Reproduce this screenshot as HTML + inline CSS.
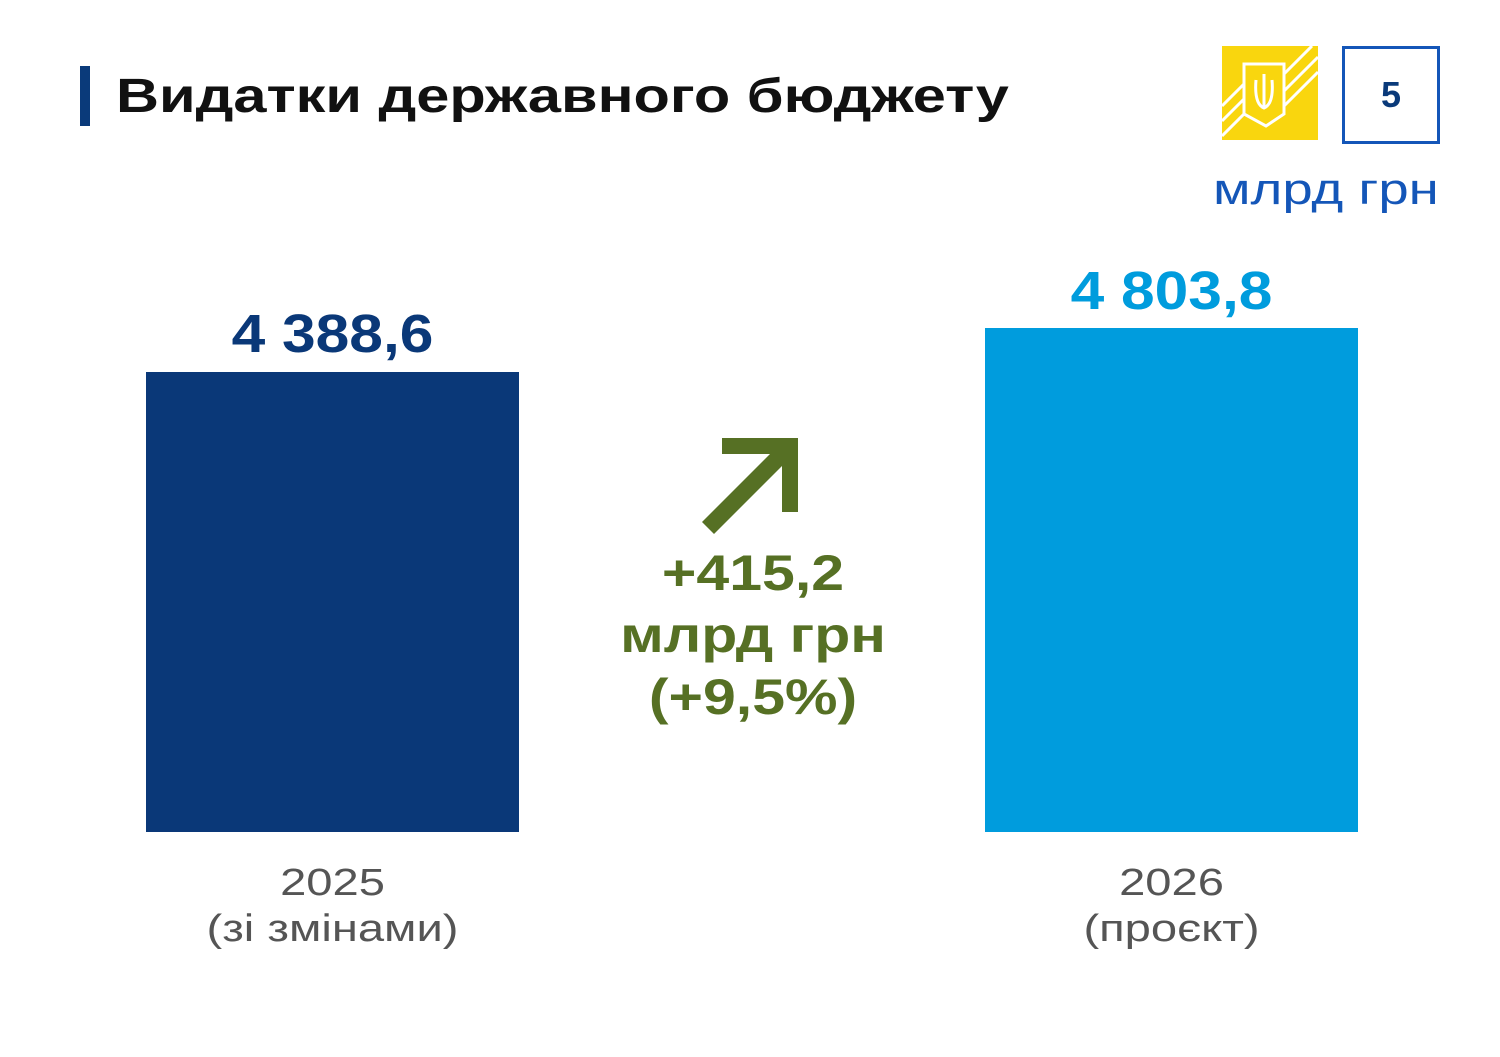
<!DOCTYPE html>
<html><head><meta charset="utf-8"><style>
body{margin:0;width:1500px;height:1057px;background:#fff;position:relative;overflow:hidden;font-family:"Liberation Sans","DejaVu Sans",sans-serif}
.a{position:absolute;white-space:nowrap}
</style></head><body>
<div class="a" style="left:80px;top:66px;width:10px;height:60px;background:#0a3a7a"></div>
<div class="a" style="left:116px;top:66px;font-size:48px;font-weight:bold;color:#111;line-height:62px;transform:scaleX(1.24);transform-origin:left">Видатки державного бюджету</div>
<svg class="a" style="left:1222px;top:46px" width="96" height="94" viewBox="0 0 96 94">
<rect width="96" height="94" fill="#f9d60e"/>
<g stroke="#fff" stroke-width="3" fill="none">
<path d="M0 60 L30 30 M0 75 L30 45 M0 90 L30 60 M60 30 L90 0 M62 45 L96 11 M62 60 L96 26"/>
<path d="M22 18 L62 18 L62 68 L44 80 L22 68 Z" fill="#f9d60e"/>
<path d="M42 28 L42 62 M34 34 Q32 58 42 62 Q52 58 50 34"/>
</g></svg>
<div class="a" style="left:1342px;top:46px;width:92px;height:92px;border:3px solid #1456b8;font-size:36px;font-weight:bold;color:#0a3a7a;text-align:center;line-height:92px">5</div>
<div class="a" style="left:1213px;top:165px;font-size:44px;color:#1456b8;transform:scaleX(1.24);transform-origin:left">млрд грн</div>

<div class="a" style="left:146px;top:372px;width:373px;height:460px;background:#0a3878"></div>
<div class="a" style="left:985px;top:328px;width:373px;height:504px;background:#009cdd"></div>
<div class="a" style="left:146px;width:373px;top:303px;text-align:center;font-size:54px;font-weight:bold;color:#0a3878;transform:scaleX(1.12)">4 388,6</div>
<div class="a" style="left:985px;width:373px;top:260px;text-align:center;font-size:54px;font-weight:bold;color:#009cdd;transform:scaleX(1.12)">4 803,8</div>

<svg class="a" style="left:690px;top:430px" width="120" height="110">
<path d="M32 8 L108 8 L108 82 L92 82 L92 36 L24 104 L12 92 L80 24 L32 24 Z" fill="#567024"/>
</svg>
<div class="a" style="left:570px;width:366px;top:542px;text-align:center;font-size:50px;font-weight:bold;color:#567024;line-height:62px;transform:scaleX(1.18)">+415,2<br>млрд грн<br>(+9,5%)</div>

<div class="a" style="left:146px;width:373px;top:860px;text-align:center;font-size:38px;color:#555;line-height:46px;transform:scaleX(1.24)">2025<br>(зі змінами)</div>
<div class="a" style="left:985px;width:373px;top:860px;text-align:center;font-size:38px;color:#555;line-height:46px;transform:scaleX(1.24)">2026<br>(проєкт)</div>
</body></html>
